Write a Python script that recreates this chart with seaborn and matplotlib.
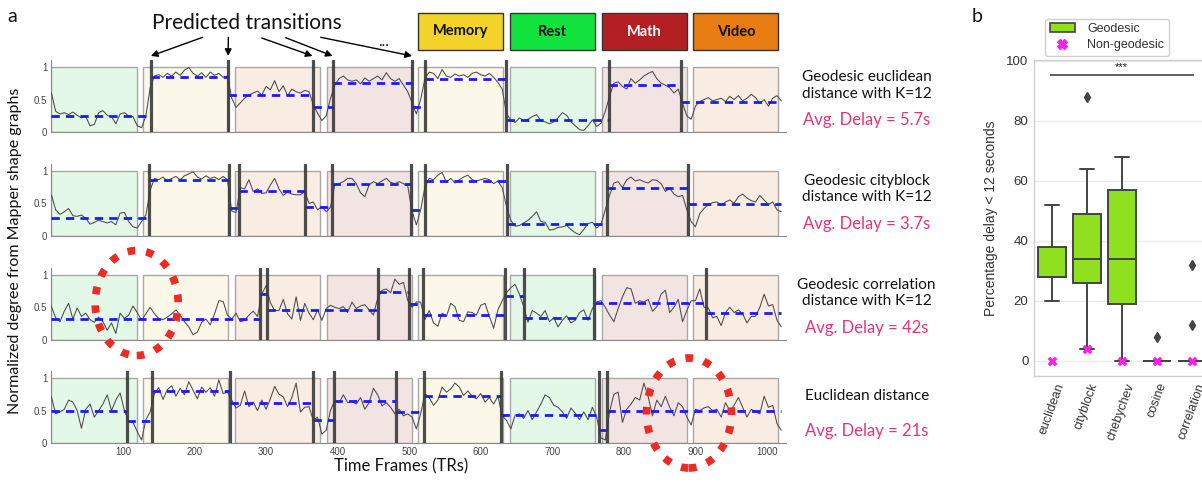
import numpy as np
import pandas as pd
import matplotlib
matplotlib.use("Agg")
import matplotlib.pyplot as plt
import matplotlib.transforms as mtransforms
from matplotlib.patches import Rectangle, Ellipse, Patch
from matplotlib.lines import Line2D
import seaborn as sns

# ---------------------------------------------------------------- data (a)
TR_STEP = 6  # sampling step of the degree traces, in TRs

geo_euclidean = [
    0.60, 0.32, 0.28, 0.30, 0.27, 0.31, 0.26, 0.22, 0.24, 0.10,
    0.12, 0.30, 0.33, 0.26, 0.24, 0.13, 0.28, 0.30, 0.25, 0.24,
    0.10, 0.07, 0.25, 0.68, 0.86, 0.88, 0.84, 0.90, 0.86, 0.92,
    0.87, 0.95, 0.99, 0.90, 0.86, 0.91, 0.84, 0.92, 0.87, 0.90,
    0.84, 0.86, 0.52, 0.38, 0.45, 0.52, 0.57, 0.60, 0.63, 0.57,
    0.70, 0.65, 0.79, 0.62, 0.71, 0.56, 0.66, 0.62, 0.60, 0.64,
    0.62, 0.42, 0.29, 0.18, 0.25, 0.52, 0.72, 0.82, 0.86, 0.80,
    0.78, 0.80, 0.74, 0.83, 0.78, 0.82, 0.86, 0.80, 0.91, 0.82,
    0.78, 0.82, 0.72, 0.62, 0.45, 0.28, 0.50, 0.82, 0.92, 0.90,
    0.82, 0.96, 0.86, 0.84, 0.89, 0.86, 0.88, 0.84, 0.90, 0.92,
    0.88, 0.86, 0.90, 0.84, 0.76, 0.66, 0.28, 0.19, 0.15, 0.22,
    0.18, 0.20, 0.24, 0.27, 0.18, 0.16, 0.13, 0.16, 0.22, 0.30,
    0.26, 0.16, 0.10, 0.04, 0.03, 0.10, 0.19, 0.09, 0.14, 0.32,
    0.55, 0.75, 0.77, 0.70, 0.66, 0.82, 0.75, 0.80, 0.86, 0.90,
    0.93, 0.82, 0.75, 0.72, 0.68, 0.60, 0.66, 0.44, 0.25, 0.20,
    0.40, 0.47, 0.50, 0.53, 0.48, 0.50, 0.52, 0.47, 0.55, 0.50,
    0.56, 0.48, 0.52, 0.58, 0.53, 0.44, 0.50, 0.40, 0.52, 0.56,
    0.48,
]

geo_cityblock = [
    0.63, 0.40, 0.33, 0.37, 0.42, 0.31, 0.30, 0.32, 0.27, 0.18,
    0.21, 0.24, 0.22, 0.20, 0.22, 0.17, 0.35, 0.36, 0.22, 0.14,
    0.12, 0.22, 0.32, 0.70, 0.88, 0.86, 0.90, 0.84, 0.88, 0.91,
    0.86, 0.92, 0.95, 0.98, 0.90, 0.87, 0.92, 0.88, 0.90, 0.86,
    0.91, 0.86, 0.38, 0.36, 0.74, 0.72, 0.86, 0.68, 0.72, 0.65,
    0.66, 0.78, 0.88, 0.72, 0.62, 0.67, 0.64, 0.63, 0.63, 0.68,
    0.50, 0.52, 0.40, 0.45, 0.37, 0.44, 0.78, 0.80, 0.83, 0.88,
    0.88, 0.80, 0.66, 0.60, 0.78, 0.83, 0.80, 0.84, 0.88, 0.82,
    0.80, 0.83, 0.80, 0.76, 0.38, 0.17, 0.40, 0.75, 0.88, 0.86,
    0.93, 0.97, 0.82, 0.88, 0.81, 0.86, 0.90, 0.93, 0.86, 0.84,
    0.86, 0.88, 0.86, 0.80, 0.84, 0.74, 0.45, 0.24, 0.15, 0.16,
    0.20, 0.24, 0.30, 0.37, 0.22, 0.21, 0.09, 0.10, 0.13, 0.14,
    0.16, 0.10, 0.05, 0.02, 0.10, 0.19, 0.21, 0.12, 0.18, 0.40,
    0.62, 0.81, 0.83, 0.74, 0.86, 0.90, 0.84, 0.86, 0.83, 0.81,
    0.86, 0.85, 0.80, 0.68, 0.73, 0.64, 0.60, 0.62, 0.40, 0.22,
    0.14, 0.34, 0.42, 0.48, 0.51, 0.52, 0.47, 0.52, 0.55, 0.50,
    0.60, 0.64, 0.58, 0.54, 0.52, 0.62, 0.55, 0.48, 0.52, 0.40,
    0.37,
]

geo_correlation = [
    0.51, 0.34, 0.28, 0.44, 0.56, 0.32, 0.49, 0.36, 0.41, 0.31,
    0.27, 0.35, 0.28, 0.15, 0.26, 0.10, 0.41, 0.33, 0.38, 0.52,
    0.42, 0.30, 0.40, 0.50, 0.40, 0.33, 0.31, 0.35, 0.40, 0.46,
    0.38, 0.28, 0.20, 0.08, 0.12, 0.27, 0.32, 0.23, 0.40, 0.60,
    0.59, 0.38, 0.32, 0.41, 0.28, 0.30, 0.38, 0.44, 0.36, 0.70,
    0.83, 0.57, 0.45, 0.45, 0.62, 0.40, 0.32, 0.66, 0.30, 0.56,
    0.41, 0.31, 0.46, 0.30, 0.48, 0.53, 0.50, 0.48, 0.51, 0.42,
    0.58, 0.48, 0.52, 0.54, 0.46, 0.38, 0.64, 0.76, 0.78, 0.72,
    0.93, 0.85, 0.88, 0.60, 0.50, 0.58, 0.58, 0.31, 0.45, 0.26,
    0.21, 0.41, 0.36, 0.56, 0.51, 0.30, 0.28, 0.43, 0.42, 0.38,
    0.53, 0.56, 0.36, 0.18, 0.46, 0.60, 0.72, 0.80, 0.85, 0.70,
    0.51, 0.27, 0.45, 0.41, 0.36, 0.45, 0.28, 0.34, 0.20, 0.30,
    0.37, 0.26, 0.30, 0.42, 0.46, 0.30, 0.48, 0.58, 0.60, 0.50,
    0.38, 0.28, 0.48, 0.66, 0.80, 0.78, 0.56, 0.60, 0.58, 0.62,
    0.44, 0.51, 0.70, 0.76, 0.42, 0.50, 0.62, 0.28, 0.45, 0.60,
    0.60, 0.78, 0.50, 0.49, 0.34, 0.36, 0.22, 0.42, 0.50, 0.42,
    0.46, 0.40, 0.26, 0.36, 0.36, 0.50, 0.70, 0.52, 0.54, 0.30,
    0.20,
]

plain_euclidean = [
    0.71, 0.45, 0.48, 0.52, 0.66, 0.63, 0.50, 0.23, 0.52, 0.60,
    0.40, 0.50, 0.60, 0.74, 0.50, 0.66, 0.77, 0.50, 0.34, 0.32,
    0.18, 0.05, 0.36, 0.48, 0.76, 0.85, 0.67, 0.82, 0.88, 0.72,
    0.84, 0.74, 0.94, 0.81, 0.68, 0.86, 0.78, 0.85, 0.72, 0.97,
    0.76, 0.78, 0.66, 0.54, 0.58, 0.80, 0.56, 0.63, 0.50, 0.66,
    0.52, 0.68, 0.87, 0.75, 0.71, 0.56, 0.70, 0.92, 0.48, 0.55,
    0.56, 0.35, 0.40, 0.14, 0.20, 0.50, 0.66, 0.62, 0.74, 0.62,
    0.64, 0.60, 0.70, 0.52, 0.62, 0.84, 0.74, 0.57, 0.62, 0.55,
    0.45, 0.52, 0.42, 0.45, 0.40, 0.22, 0.45, 0.76, 0.70, 0.58,
    0.66, 0.86, 0.78, 0.83, 0.92, 0.86, 0.73, 0.80, 0.72, 0.68,
    0.76, 0.63, 0.70, 0.60, 0.72, 0.42, 0.35, 0.22, 0.43, 0.45,
    0.38, 0.50, 0.36, 0.48, 0.60, 0.74, 0.70, 0.58, 0.55, 0.48,
    0.38, 0.54, 0.46, 0.36, 0.48, 0.36, 0.55, 0.40, 0.08, 0.05,
    0.48, 0.75, 0.78, 0.32, 0.52, 0.60, 0.70, 0.66, 0.92, 0.71,
    0.42, 0.66, 0.56, 0.72, 0.55, 0.42, 0.62, 0.56, 0.40, 0.28,
    0.52, 0.50, 0.54, 0.56, 0.50, 0.52, 0.40, 0.62, 0.50, 0.58,
    0.70, 0.55, 0.40, 0.52, 0.48, 0.45, 0.72, 0.55, 0.58, 0.30,
    0.20,
]

# predicted transitions (TR) and state levels between them
trans_geo_euclidean = [139, 247, 365, 393, 504, 522, 635, 779, 880]
level_geo_euclidean = [0.25, 0.85, 0.57, 0.38, 0.75, 0.39, 0.82, 0.19, 0.73, 0.47]
trans_geo_cityblock = [136, 248, 262, 354, 392, 503, 522, 636, 777, 889]
level_geo_cityblock = [0.28, 0.86, 0.43, 0.69, 0.45, 0.79, 0.39, 0.84, 0.19, 0.73, 0.49]
trans_geo_correlation = [292, 301, 456, 500, 519, 634, 660, 758, 915]
level_geo_correlation = [0.32, 0.71, 0.46, 0.74, 0.55, 0.38, 0.67, 0.33, 0.56, 0.42]
trans_plain_euclidean = [105, 141, 250, 365, 395, 481, 520, 628, 765, 777]
level_plain_euclidean = [0.50, 0.34, 0.80, 0.61, 0.36, 0.64, 0.48, 0.73, 0.44, 0.20, 0.49]

row_titles = ["Geodesic euclidean\ndistance with K=12",
              "Geodesic cityblock\ndistance with K=12",
              "Geodesic correlation\ndistance with K=12",
              "Euclidean distance"]
avg_delays = ["5.7", "3.7", "42", "21"]

# task block design
block_tasks = ["Rest", "Memory", "Video", "Math", "Memory", "Rest", "Math", "Video"]
block_starts = [0, 128, 257, 385, 512, 641, 769, 897]
block_length = 119
legend_tasks = ["Memory", "Rest", "Math", "Video"]

# ---------------------------------------------------------------- data (b)
metrics = ["euclidean", "cityblock", "chebychev", "cosine", "correlation"]
pct_euclidean = [20, 24, 28, 28, 28, 33, 38, 45, 52]
pct_cityblock = [4, 20, 26, 30, 34, 40, 49, 64, 88]
pct_chebychev = [0, 10, 19, 25, 34, 45, 57, 62, 68]
pct_cosine = [0, 0, 0, 0, 0, 0, 0, 0, 8]
pct_correlation = [0, 0, 0, 0, 0, 0, 0, 12, 32]
pct_nongeodesic = [0, 4, 0, 0, 0]

# ---------------------------------------------------------------- style
sns.set_theme(style="whitegrid")
plt.rcParams["font.family"] = ["Liberation Sans", "DejaVu Sans"]
ANNOT_FONT = ["Lato", "DejaVu Sans"]

task_colors = {"Memory": "#f4d329", "Rest": "#12e23e",
               "Math": "#b22024", "Video": "#e67c12"}
task_fill = {"Memory": "#fcf8e9", "Rest": "#e4f8e8",
             "Math": "#f3e4e4", "Video": "#f9ece2"}
PINK = "#e0357f"
LIME = "#8fe01f"
MAGENTA = "#ff1cf0"

W, H = 1202, 482
fig = plt.figure(figsize=(W / 100, H / 100), dpi=100)
fig.patch.set_facecolor("white")


def fx(px):
    return px / W


def fy(py):
    return 1 - py / H


# ---------------------------------------------------------------- panel a
rows = [
    (geo_euclidean, trans_geo_euclidean, level_geo_euclidean),
    (geo_cityblock, trans_geo_cityblock, level_geo_cityblock),
    (geo_correlation, trans_geo_correlation, level_geo_correlation),
    (plain_euclidean, trans_plain_euclidean, level_plain_euclidean),
]
row_bottoms_px = [132.3, 236.0, 340.0, 443.3]
ax_left_px, ax_right_px, ax_h_px = 51.4, 785.6, 72.0

axes_a = []
for r, ((series, trans, levels), bottom_px) in enumerate(zip(rows, row_bottoms_px)):
    ax = fig.add_axes([fx(ax_left_px), fy(bottom_px),
                       (ax_right_px - ax_left_px) / W, ax_h_px / H])
    axes_a.append(ax)
    ax.set_facecolor("none")
    ax.grid(False)

    for start, task in zip(block_starts, block_tasks):
        ax.add_patch(Rectangle((start, 0), block_length, 1,
                               facecolor=task_fill[task], edgecolor="#a8a8a8",
                               lw=1.0, zorder=1))

    df = pd.DataFrame({"TR": np.arange(len(series)) * TR_STEP, "degree": series})
    sns.lineplot(data=df, x="TR", y="degree", ax=ax, color="#4a4a4a",
                 lw=0.75, zorder=3)

    end_tr = (len(series) - 1) * TR_STEP
    bounds = [0] + trans + [end_tr]
    for i, lvl in enumerate(levels):
        ax.hlines(lvl, bounds[i], bounds[i + 1], colors="#1a1aff", lw=2.0,
                  linestyles=(0, (3.0, 2.2)), zorder=4)
    for t in trans:
        ax.axvline(t, color="#3a3a3a", lw=2.3, alpha=0.9, zorder=5)

    ax.set_xlim(0, 1026)
    ax.set_ylim(0, 1.1)
    ax.set_yticks([0, 0.5, 1])
    ax.set_yticklabels(["0", "0.5", "1"])
    ax.set_xticks(range(100, 1001, 100))
    ax.tick_params(axis="both", direction="in", length=4, width=0.7,
                   color="#777777", labelcolor="#444444", labelsize=7, pad=3,
                   left=True, bottom=True)
    ax.tick_params(axis="x", labelbottom=(r == 3))
    ax.set_xlabel("")
    ax.set_ylabel("")
    for side in ("top", "right"):
        ax.spines[side].set_visible(False)
    for side in ("left", "bottom"):
        ax.spines[side].set_color("#8a8a8a")
        ax.spines[side].set_linewidth(0.8)

    fig.text(fx(866.7), fy(bottom_px - 47), row_titles[r], ha="center",
             va="center", fontsize=11, family=ANNOT_FONT, color="#111111",
             linespacing=1.25)
    fig.text(fx(866.7), fy(bottom_px - 12), f"Avg. Delay = {avg_delays[r]}s",
             ha="center", va="center", fontsize=12, family=ANNOT_FONT,
             color=PINK)

ax1 = axes_a[0]

# task colour key above the last four blocks
key_tf = mtransforms.blended_transform_factory(ax1.transData, fig.transFigure)
for i, task in enumerate(legend_tasks):
    start = block_starts[4 + i]
    ax1.add_patch(Rectangle((start, fy(50)), block_length, fy(13.3) - fy(50),
                            transform=key_tf, facecolor=task_colors[task],
                            edgecolor="#333333", lw=1.0, clip_on=False))
    ax1.text(start + block_length / 2, fy(31.5), task, transform=key_tf,
             ha="center", va="center", fontsize=10.5, fontweight="bold",
             family=ANNOT_FONT,
             color="white" if task == "Math" else "#111111")

# "Predicted transitions" arrows
fig.text(fx(246.7), fy(22.7), "Predicted transitions", ha="center",
         va="center", fontsize=15, family=ANNOT_FONT, color="#111111")
arrow_tails_px = [(202.7, 37.3), (228.3, 37.3), (261.7, 38.0),
                  (285.7, 37.7), (320.7, 37.3)]
for t, (tx, ty) in zip(trans_geo_euclidean[:5], arrow_tails_px):
    ax1.annotate("", xy=(t, 1.06), xycoords=("data", "axes fraction"),
                 xytext=(tx, H - ty), textcoords="figure pixels",
                 arrowprops=dict(arrowstyle="-|>", color="black", lw=1.0,
                                 mutation_scale=10, shrinkA=0, shrinkB=0),
                 annotation_clip=False)
fig.text(fx(383.3), fy(42), "...", ha="center", va="center", fontsize=11,
         family=ANNOT_FONT, color="#111111")

fig.text(fx(15), fy(251), "Normalized degree from Mapper shape graphs",
         rotation=90, ha="center", va="center", fontsize=11.5,
         family=ANNOT_FONT, color="#111111")
fig.text(fx(401), fy(466), "Time Frames (TRs)", ha="center", va="center",
         fontsize=12, family=ANNOT_FONT, color="#111111")

# dotted highlight rings
for cx, cy, w, h in [(136.7, 303.0, 83.0, 105.0), (689.0, 413.0, 85.0, 110.0)]:
    ring = Ellipse((fx(cx), fy(cy)), w / W, h / H, transform=fig.transFigure,
                   fill=False, edgecolor="#ee2a24", lw=5.5,
                   linestyle=(0, (1.0, 1.45)), zorder=20)
    fig.add_artist(ring)

fig.text(fx(12.5), fy(17), "a", ha="center", va="center", fontsize=14,
         family=ANNOT_FONT, color="#111111")
fig.text(fx(977), fy(17), "b", ha="center", va="center", fontsize=14,
         family=ANNOT_FONT, color="#111111")

# ---------------------------------------------------------------- panel b
axb = fig.add_axes([fx(1034), fy(375.7), (1209 - 1034) / W, (375.7 - 60) / H])
pct_lists = [pct_euclidean, pct_cityblock, pct_chebychev, pct_cosine,
             pct_correlation]
box_df = pd.DataFrame({
    "metric": np.repeat(metrics, [len(v) for v in pct_lists]),
    "pct": np.concatenate(pct_lists),
})
sns.boxplot(data=box_df, x="metric", y="pct", order=metrics, color=LIME,
            saturation=1, linecolor="#444444", linewidth=1.4, width=0.8,
            flierprops=dict(marker="d", markerfacecolor="#444444",
                            markeredgecolor="#444444", markersize=5),
            ax=axb)
sns.stripplot(x=metrics, y=pct_nongeodesic, order=metrics, marker="X",
              color=MAGENTA, size=7, jitter=False, linewidth=0, zorder=10,
              ax=axb)

axb.hlines(95.3, -0.05, 4.08, colors="#555555", lw=1.3)
axb.text(2, 96.3, "***", ha="center", va="bottom", fontsize=8, color="#222222")

axb.set_xlim(-0.5, 4.5)
axb.set_ylim(-5, 100.3)
axb.set_yticks(range(0, 101, 20))
axb.xaxis.grid(False)
axb.yaxis.grid(True, color="#ebebeb", lw=1.0)
axb.set_xlabel("")
axb.set_ylabel("Percentage delay < 12 seconds", fontsize=10, color="#333333",
               labelpad=6)
axb.tick_params(axis="y", labelsize=9.5, labelcolor="#333333", pad=4, length=0)
axb.tick_params(axis="x", labelsize=9, labelcolor="#333333", pad=4, length=0,
                rotation=70)
for sp in axb.spines.values():
    sp.set_color("#cfcfcf")
    sp.set_linewidth(1.0)

handles = [Patch(facecolor=LIME, edgecolor="#444444", lw=1.2, label="Geodesic"),
           Line2D([], [], marker="X", color="none", markerfacecolor=MAGENTA,
                  markeredgecolor=MAGENTA, markersize=7, label="Non-geodesic")]
axb.legend(handles=handles, loc="lower left", bbox_to_anchor=(fx(1039), fy(62)),
           bbox_transform=fig.transFigure, fontsize=9, frameon=True,
           edgecolor="#d0d0d0", framealpha=1, borderpad=0.35,
           handlelength=2.0, labelspacing=0.35, handletextpad=1.0,
           labelcolor="#333333")

fig.savefig("out.png", dpi=100)
